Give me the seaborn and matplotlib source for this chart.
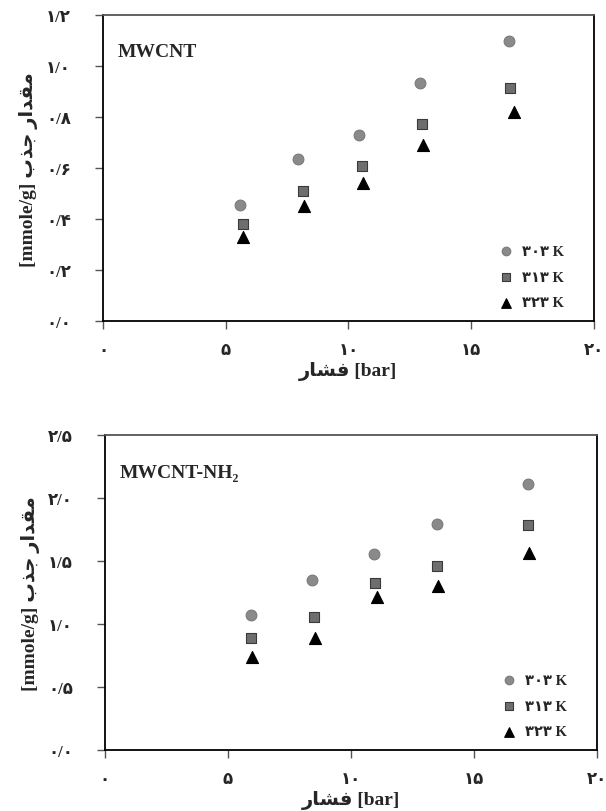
import numpy as np
import pandas as pd
import seaborn as sns
import matplotlib.pyplot as plt
from matplotlib.ticker import FixedLocator

sns.set_style('white')
plt.rcParams['font.family'] = ['Liberation Serif', 'DejaVu Sans']
plt.rcParams['font.weight'] = 'bold'

# data: pressure [bar] and uptake [mmol/g]
temps = ['303', '313', '323']

top_x_303 = [5.6, 7.95, 10.45, 12.9, 16.55]
top_y_303 = [0.455, 0.635, 0.73, 0.935, 1.10]
top_x_313 = [5.7, 8.15, 10.55, 13.0, 16.6]
top_y_313 = [0.38, 0.51, 0.61, 0.775, 0.915]
top_x_323 = [5.7, 8.2, 10.6, 13.05, 16.75]
top_y_323 = [0.33, 0.45, 0.54, 0.69, 0.82]

bot_x_303 = [5.95, 8.4, 10.95, 13.5, 17.2]
bot_y_303 = [1.07, 1.35, 1.555, 1.79, 2.11]
bot_x_313 = [5.95, 8.5, 11.0, 13.5, 17.2]
bot_y_313 = [0.89, 1.055, 1.325, 1.46, 1.785]
bot_x_323 = [6.0, 8.55, 11.05, 13.55, 17.25]
bot_y_323 = [0.74, 0.89, 1.215, 1.30, 1.565]

x_ticks = [0, 5, 10, 15, 20]
top_y_ticks = [0.0, 0.2, 0.4, 0.6, 0.8, 1.0, 1.2]
bot_y_ticks = [0.0, 0.5, 1.0, 1.5, 2.0, 2.5]

FA_DIGITS = str.maketrans('0123456789.', '\u06f0\u06f1\u06f2\u06f3\u06f4\u06f5\u06f6\u06f7\u06f8\u06f9/')


def fa(s):
    return s.translate(FA_DIGITS)


# Persian words written in presentation forms, visual order
word_feshar = '\uFEAD\uFE8E\uFEB8\uFED3'            # فشار
word_meghdar = '\uFEAD\uFE8D\uFEAA\uFED8\uFEE3'     # مقدار
word_jazb = '\uFE8F\uFEAC\uFE9F'                    # جذب
xlabel = word_feshar + ' [bar]'
ylabel = '[mmole/g] ' + word_jazb + ' ' + word_meghdar

styles = {
    '303': dict(marker='o', color='#8a8a8a', edgecolor='#7a7a7a', s=60),
    '313': dict(marker='s', color='#6e6e6e', edgecolor='#3a3a3a', s=62),
    '323': dict(marker='^', color='black', edgecolor='black', s=75),
}

fig = plt.figure(figsize=(6.06, 8.12), dpi=100)
ax1 = fig.add_axes([0.170, 0.6034, 0.810, 0.3766])
ax2 = fig.add_axes([0.173, 0.0751, 0.812, 0.3879])

panels = [
    (ax1, [top_x_303, top_x_313, top_x_323], [top_y_303, top_y_313, top_y_323],
     top_y_ticks, 1.2, 'MWCNT'),
    (ax2, [bot_x_303, bot_x_313, bot_x_323], [bot_y_303, bot_y_313, bot_y_323],
     bot_y_ticks, 2.5, 'MWCNT-NH\u2082'),
]

for ax, xs, ys, yt, ymax, name in panels:
    for t, x, y in zip(temps, xs, ys):
        df = pd.DataFrame({'p': x, 'q': y})
        sns.scatterplot(data=df, x='p', y='q', ax=ax, linewidth=0.8,
                        label=fa(t) + ' K', **styles[t])
    ax.set_xlim(0, 20)
    ax.set_ylim(0, ymax)
    ax.xaxis.set_major_locator(FixedLocator(x_ticks))
    ax.yaxis.set_major_locator(FixedLocator(yt))
    ax.set_xticklabels([fa(str(v)) for v in x_ticks], fontsize=12, fontweight='bold')
    ax.set_yticklabels([fa('%.1f' % v) for v in yt], fontsize=12, fontweight='bold')
    ax.tick_params(axis='both', direction='out', length=6, width=1, color='#555555',
                   left=True, bottom=True)
    ax.tick_params(axis='y', pad=17)
    ax.tick_params(axis='x', pad=9)
    for sp in ax.spines.values():
        sp.set_color('black')
        sp.set_linewidth(1.3)
    ax.spines['top'].set_color('#555555')
    ax.set_xlabel(xlabel, fontsize=14, fontweight='bold', labelpad=2)
    ax.set_ylabel(ylabel, fontsize=14, fontweight='bold', labelpad=6)
    ax.text(0.03, 0.855, name, transform=ax.transAxes, fontsize=14,
            fontweight='bold', ha='left', va='bottom')
    ax.legend(loc='lower right', bbox_to_anchor=(0.965, -0.005), frameon=False,
              handletextpad=0.1, labelspacing=0.85, markerscale=0.8,
              prop={'weight': 'bold', 'size': 10.5})

fig.savefig('out.png', dpi=100)
